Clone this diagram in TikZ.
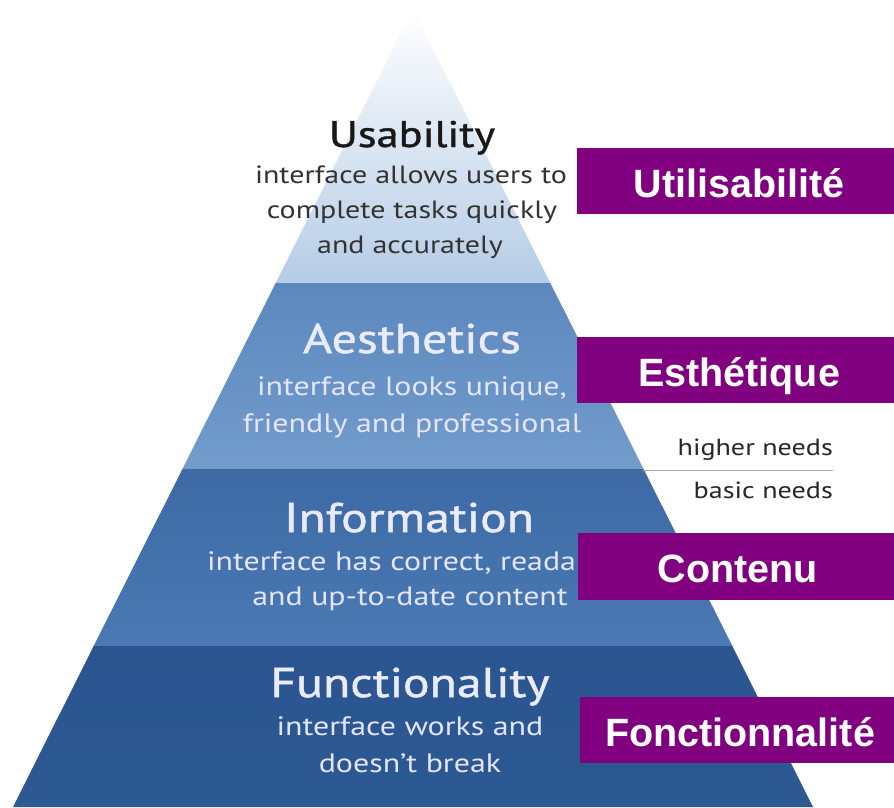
\documentclass[tikz,border=0pt]{standalone}
\usepackage{fontspec}
\setmainfont{PT Sans}
\newfontfamily\pyrfont[FakeStretch=1.2,Ligatures=TeX]{PT Sans}
\newfontfamily\pyrtitle[FakeStretch=1.2,FakeBold=1.2]{PT Sans}
\newfontfamily\boxfont{Liberation Sans}
\begin{document}
\begin{tikzpicture}[x=1pt,y=-1pt,
  title/.style={anchor=base,inner sep=0pt,font=\pyrtitle\fontsize{41.5}{41.5}\selectfont,text=white!92!blue},
  body/.style={anchor=base,inner sep=0pt,font=\pyrfont\fontsize{26.6}{26.6}\selectfont,text=white!90!blue},
  fr/.style={fill=frpurple,draw=none},
  frtext/.style={anchor=base,inner sep=0pt,font=\boxfont\bfseries\fontsize{39.5}{39.5}\selectfont,text=white},
  needs/.style={anchor=base east,inner sep=0pt,font=\pyrfont\fontsize{23.4}{23.4}\selectfont,text=black!85}]
\definecolor{frpurple}{HTML}{800080}
\definecolor{bandA}{HTML}{B5CCE6}
\definecolor{bandBt}{HTML}{5C88BF}
\definecolor{bandBb}{HTML}{739CCB}
\definecolor{bandCt}{HTML}{3D6AA5}
\definecolor{bandCb}{HTML}{4A79B4}
\definecolor{bandDt}{HTML}{2A5590}
\definecolor{bandDb}{HTML}{2D5993}
\useasboundingbox (0,0) rectangle (894,807);
\fill[white] (0,0) rectangle (894,807);
% pyramid
\coordinate (apex) at (413,9);
\coordinate (bl) at (13,807);
\coordinate (br) at (813,807);
\begin{scope}
  \clip (apex) -- (br) -- (bl) -- cycle;
  \shade[top color=white,bottom color=bandA] (0,9) rectangle (894,283);
  \shade[top color=bandBt,bottom color=bandBb] (0,283) rectangle (894,469);
  \shade[top color=bandCt,bottom color=bandCb] (0,469) rectangle (894,646);
  \shade[top color=bandDt,bottom color=bandDb] (0,646) rectangle (894,807);
\end{scope}
% texts
\node[title,text=black!90,font=\pyrtitle\fontsize{37}{37}\selectfont] (t1) at (412,147) {Usability};
\node[body,text=black!80,font=\pyrfont\fontsize{25}{25}\selectfont] (t1a) at (411,183) {interface allows users to};
\node[body,text=black!80,font=\pyrfont\fontsize{25}{25}\selectfont] (t1b) at (412,218) {complete tasks quickly};
\node[body,text=black!80,font=\pyrfont\fontsize{25}{25}\selectfont] (t1c) at (410,253) {and accurately};
\node[title] (t2) at (412,353) {Aesthetics};
\node[body] (t2a) at (412,395) {interface looks unique,};
\node[body] (t2b) at (412,432) {friendly and professional};
\node[title] (t3) at (409,532) {Information};
\node[body] (t3a) at (413,570) {interface has correct, readable};
\node[body] (t3b) at (410,605) {and up-to-date content};
\node[title] (t4) at (410,697) {Functionality};
\node[body] (t4a) at (410,735) {interface works and};
\node[body] (t4b) at (410,772) {doesn’t break};
% higher / basic needs
\node[needs] (hn) at (833,455) {higher needs};
\node[needs] (bn) at (833,498) {basic needs};
\coordinate (sepL) at (643,470);
\coordinate (sepR) at (833,470);
\draw[black!35,line width=1pt] (sepL) -- (sepR);
% french labels
\fill[fr] (577,148) rectangle (894,214);
\fill[fr] (577,337) rectangle (894,403);
\fill[fr] (578,533) rectangle (894,600);
\fill[fr] (580,697) rectangle (894,763);
\node[frtext] (f1) at (739,197) {Utilisabilité};
\node[frtext] (f2) at (739,386) {Esthétique};
\node[frtext] (f3) at (738,582) {Contenu};
\node[frtext] (f4) at (740,746) {Fonctionnalité};
\end{tikzpicture}
\end{document}
